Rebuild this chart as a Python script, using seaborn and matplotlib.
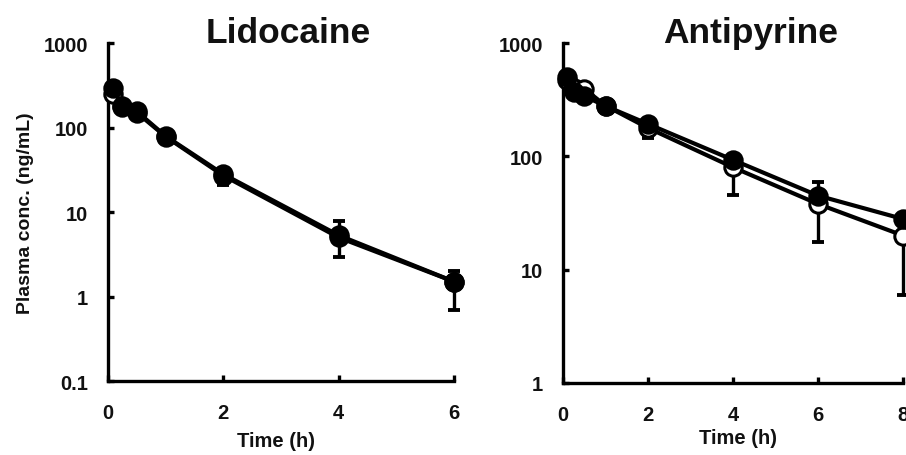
import matplotlib
matplotlib.use("Agg")
import matplotlib.pyplot as plt
from matplotlib.ticker import NullLocator
import seaborn as sns
import pandas as pd

# Lidocaine plasma concentrations (ng/mL), mean and SD
lido_time = [0.083, 0.25, 0.5, 1, 2, 4, 6]
lido_open = [250, 175, 150, 78, 27, 5.0, 1.5]
lido_open_sd = [20, 15, 10, 6, 6.4, 2.1, 0.8]
lido_filled = [290, 180, 155, 79, 28, 5.3, 1.5]
lido_filled_sd = [30, 15, 12, 8, 4, 2.5, 0.5]

# Antipyrine plasma concentrations (ng/mL), mean and SD
anti_time = [0.083, 0.25, 0.5, 1, 2, 4, 6, 8]
anti_open = [470, 400, 395, 280, 178, 80, 38, 20]
anti_open_sd = [40, 30, 30, 20, 33, 34, 20.5, 14]
anti_filled = [500, 369, 340, 278, 193, 93, 45, 28]
anti_filled_sd = [40, 30, 30, 20, 15, 8, 14, 3]

lido_yticks = [0.1, 1, 10, 100, 1000]
lido_yticklabels = ["0.1", "1", "10", "100", "1000"]
lido_xticks = [0, 2, 4, 6]
anti_yticks = [1, 10, 100, 1000]
anti_yticklabels = ["1", "10", "100", "1000"]
anti_xticks = [0, 2, 4, 6, 8]

sns.set_style("ticks")
plt.rcParams["font.family"] = ["Liberation Sans", "DejaVu Sans"]
plt.rcParams["font.weight"] = "bold"
TXT = "#111111"
FS = 14.5

fig = plt.figure(figsize=(9.06, 4.56), dpi=100)
ax1 = fig.add_axes([108 / 906, 1 - 382 / 456, 346 / 906, 338 / 456])
ax2 = fig.add_axes([563 / 906, 1 - 384 / 456, 340 / 906, 340 / 456])


def draw_series(ax, t, vals, sd, filled, z):
    n = len(vals)
    zeros = [0] * n
    yerr = [zeros, sd] if filled else [sd, zeros]
    ax.errorbar(t, vals, yerr=yerr, fmt="none", ecolor="black",
                elinewidth=2.4, capsize=4.5, capthick=2.8,
                zorder=z, clip_on=False)
    df = pd.DataFrame({"time": t, "conc": vals})
    sns.lineplot(data=df, x="time", y="conc", ax=ax, color="black",
                 linewidth=3.0, marker="o", markersize=12.5,
                 markerfacecolor="black" if filled else "white",
                 markeredgecolor="black", markeredgewidth=2.2,
                 errorbar=None, clip_on=False, zorder=z + 1)


def style_axes(ax, xmax, yticks, yticklabels, xticks, ylow):
    ax.set_yscale("log")
    ax.set_ylim(ylow, 1000)
    ax.set_xlim(0, xmax)
    ax.set_yticks(yticks)
    ax.set_yticklabels(yticklabels)
    ax.yaxis.set_minor_locator(NullLocator())
    ax.set_xticks(xticks)
    ax.set_xticklabels([str(v) for v in xticks])
    sns.despine(ax=ax)
    for s in ("left", "bottom"):
        ax.spines[s].set_linewidth(2.4)
        ax.spines[s].set_color("black")
    ax.tick_params(axis="both", direction="in", length=4.5, width=2.4,
                   colors="black", labelcolor=TXT, labelsize=FS)
    ax.tick_params(axis="y", pad=14.5)
    ax.tick_params(axis="x", pad=15.5)
    for lab in ax.get_xticklabels() + ax.get_yticklabels():
        lab.set_fontweight("bold")
    ax.set_xlabel("")
    ax.set_ylabel("")


draw_series(ax1, lido_time, lido_open, lido_open_sd, False, 2)
draw_series(ax1, lido_time, lido_filled, lido_filled_sd, True, 4)
style_axes(ax1, 6, lido_yticks, lido_yticklabels, lido_xticks, 0.1)

draw_series(ax2, anti_time, anti_open, anti_open_sd, False, 2)
draw_series(ax2, anti_time, anti_filled, anti_filled_sd, True, 4)
style_axes(ax2, 8, anti_yticks, anti_yticklabels, anti_xticks, 1)

ax1.text(0.522, 1.003, "Lidocaine", transform=ax1.transAxes,
         ha="center", va="baseline", fontsize=25.5, fontweight="bold",
         color=TXT)
ax2.text(0.553, 1.003, "Antipyrine", transform=ax2.transAxes,
         ha="center", va="baseline", fontsize=25.5, fontweight="bold",
         color=TXT)

ax1.set_xlabel("Time (h)", fontsize=FS, fontweight="bold", color=TXT)
ax1.xaxis.set_label_coords(0.486, -0.147)
ax2.set_xlabel("Time (h)", fontsize=FS, fontweight="bold", color=TXT)
ax2.xaxis.set_label_coords(0.515, -0.131)

ax1.set_ylabel("Plasma conc. (ng/mL)", fontsize=14, fontweight="bold",
               color=TXT)
ax1.yaxis.set_label_coords(-0.214, 0.5)

fig.savefig("out.png", dpi=100)
